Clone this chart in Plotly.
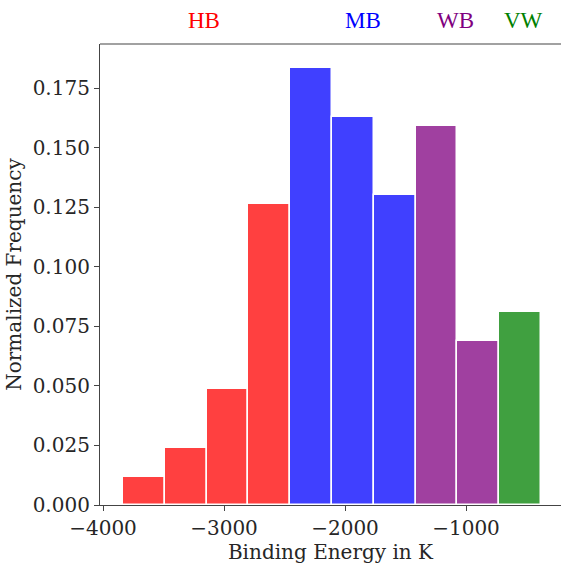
import plotly.graph_objects as go

bin_edges_start = -3835.0
bin_width = 345.5
frequencies = [0.0118, 0.0240, 0.0485, 0.1265, 0.1836, 0.1630, 0.1300, 0.1590, 0.0690, 0.0812]
bar_colors = ["#ff4040", "#ff4040", "#ff4040", "#ff4040",
              "#4040ff", "#4040ff", "#4040ff",
              "#a040a0", "#a040a0", "#40a040"]
group_labels = ["HB", "MB", "WB", "VW"]
group_label_x = [-3165, -1851, -1091, -529]
group_label_colors = ["red", "blue", "purple", "green"]

centers = [bin_edges_start + bin_width * (i + 0.5) for i in range(len(frequencies))]

font_family = "DejaVu Serif, serif"
label_family = "Liberation Serif, serif"

fig = go.Figure()
fig.add_trace(go.Bar(
    x=centers, y=frequencies, width=[bin_width] * len(frequencies),
    marker=dict(color=bar_colors, line=dict(color="white", width=1.5)),
    showlegend=False,
))

for lab, xx, col in zip(group_labels, group_label_x, group_label_colors):
    fig.add_annotation(x=xx, xref="x", y=1.0, yref="paper", yanchor="middle",
                       yshift=24, text=lab, showarrow=False,
                       font=dict(family=label_family, size=23, color=col))

fig.add_shape(type="line", xref="paper", yref="paper", x0=0, x1=1, y0=1, y1=1,
              line=dict(color="#444444", width=1.2))

fig.update_layout(
    width=561, height=566,
    margin=dict(l=100, r=0, t=44, b=61),
    plot_bgcolor="white", paper_bgcolor="white",
    font=dict(family=font_family, size=20, color="#262626"),
    bargap=0,
)
fig.update_xaxes(
    range=[-4025, -215], tickvals=[-4000, -3000, -2000, -1000],
    ticktext=["\u22124000", "\u22123000", "\u22122000", "\u22121000"],
    showline=True, linecolor="#444444", linewidth=1.2,
    ticks="outside", ticklen=5, tickcolor="#444444", showgrid=False, zeroline=False,
    title=dict(text="Binding Energy in K", font=dict(size=20), standoff=3),
    tickfont=dict(size=20),
)
fig.update_yaxes(
    range=[0, 0.1935], tickvals=[0, 0.025, 0.05, 0.075, 0.1, 0.125, 0.15, 0.175],
    ticktext=["0.000", "0.025", "0.050", "0.075", "0.100", "0.125", "0.150", "0.175"],
    showline=True, linecolor="#444444", linewidth=1.2,
    ticks="outside", ticklen=5, tickcolor="#444444", showgrid=False, zeroline=False,
    title=dict(text="Normalized Frequency", font=dict(size=20), standoff=5),
    tickfont=dict(size=20),
)

fig.write_html("out.html")
